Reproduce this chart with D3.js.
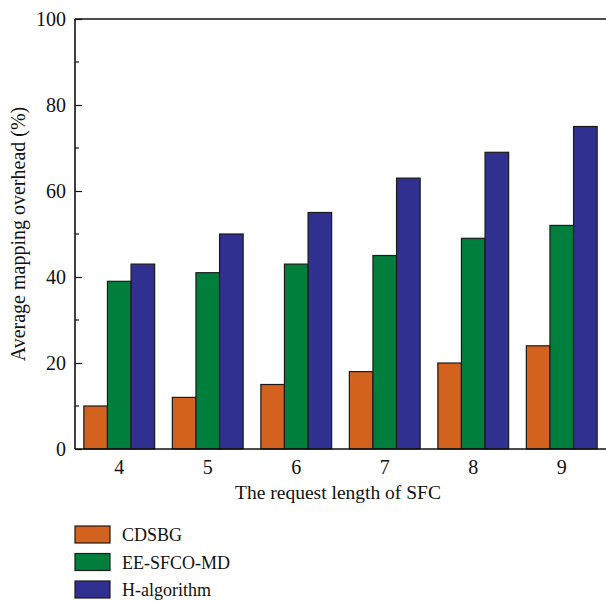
<!DOCTYPE html>
<html>
<head>
<meta charset="utf-8">
<script src="https://cdn.jsdelivr.net/npm/d3@7"></script>
<style>
  body { margin: 0; background: #fff; }
  text { font-family: "Liberation Serif", "DejaVu Serif", serif; fill: #111; }
</style>
</head>
<body>
<div id="container"></div>
<script>
const categories = ["4", "5", "6", "7", "8", "9"];
const seriesNames = ["CDSBG", "EE-SFCO-MD", "H-algorithm"];
const cdsbg = [10, 12, 15, 18, 20, 24];
const eeSfco = [39, 41, 43, 45, 49, 52];
const hAlgo = [43, 50, 55, 63, 69, 75];
const yTicks = [0, 20, 40, 60, 80, 100];
const yMinor = [10, 30, 50, 70, 90];
const colors = ["#d2621d", "#007f3c", "#303091"];

const width = 606, height = 601;
const plotLeft = 75, plotRight = 606, plotTop = 19, plotBottom = 449;

const svg = d3.select("#container").append("svg")
	.attr("width", width)
	.attr("height", height);

const x = d3.scaleBand().domain(categories).range([plotLeft, plotRight]).paddingInner(0.2).paddingOuter(0.1);
const x1 = d3.scaleBand().domain(seriesNames).range([0, x.bandwidth()]);
const y = d3.scaleLinear().domain([0, 100]).range([plotBottom, plotTop]);

const series = [cdsbg, eeSfco, hAlgo];
const rows = [];
series.forEach((vals, s) => vals.forEach((v, i) => rows.push({ cat: categories[i], name: seriesNames[s], v: v, s: s })));

svg.selectAll(".bar")
	.data(rows)
	.enter()
	.append("rect")
		.attr("class", "bar")
		.attr("x", (d) => x(d.cat) + x1(d.name))
		.attr("y", (d) => y(d.v))
		.attr("width", x1.bandwidth())
		.attr("height", (d) => y(0) - y(d.v))
		.style("fill", (d) => colors[d.s])
		.style("stroke", "#1a1a1a")
		.style("stroke-width", 1.2);

// y axis with inward ticks
const yAxis = svg.append("g")
	.attr("transform", `translate(${plotLeft},0)`)
	.call(d3.axisLeft(y).tickValues(yTicks).tickSize(-7).tickPadding(9));
yAxis.select(".domain").remove();
yAxis.selectAll("line").style("stroke", "#111").style("stroke-width", 1.2);
yAxis.selectAll("text").style("font-size", "20px").style("font-family", "Liberation Serif, serif").attr("fill", "#111");

svg.selectAll(".minor")
	.data(yMinor)
	.enter()
	.append("line")
		.attr("x1", plotLeft).attr("x2", plotLeft + 4)
		.attr("y1", (d) => y(d)).attr("y2", (d) => y(d))
		.style("stroke", "#111").style("stroke-width", 1.2);

// frame lines
svg.append("line").attr("x1", plotLeft).attr("x2", plotLeft).attr("y1", plotTop).attr("y2", plotBottom)
	.style("stroke", "#111").style("stroke-width", 1.6);
svg.append("line").attr("x1", plotLeft).attr("x2", plotRight).attr("y1", plotTop).attr("y2", plotTop)
	.style("stroke", "#111").style("stroke-width", 1.6);

// x axis
const xAxis = svg.append("g")
	.attr("transform", `translate(0,${plotBottom})`)
	.call(d3.axisBottom(x).tickSize(0).tickPadding(11));
xAxis.select(".domain").remove();
xAxis.selectAll("text").style("font-size", "20px").style("font-family", "Liberation Serif, serif").attr("fill", "#111");
svg.append("line").attr("x1", plotLeft).attr("x2", plotRight).attr("y1", plotBottom).attr("y2", plotBottom)
	.style("stroke", "#111").style("stroke-width", 1.6);

// axis titles
svg.append("text")
	.attr("x", 338).attr("y", 499)
	.attr("text-anchor", "middle")
	.style("font-size", "19.5px")
	.text("The request length of SFC");

svg.append("text")
	.attr("transform", `translate(25, ${(plotTop + plotBottom) / 2}) rotate(-90)`)
	.attr("text-anchor", "middle")
	.style("font-size", "20px")
	.text("Average mapping overhead (%)");

// legend
const legend = svg.selectAll(".legend")
	.data(seriesNames)
	.enter()
	.append("g")
		.attr("class", "legend")
		.attr("transform", (d, i) => `translate(75, ${526 + i * 27.5})`);

legend.append("rect")
	.attr("width", 35).attr("height", 17)
	.style("fill", (d, i) => colors[i])
	.style("stroke", "#1a1a1a").style("stroke-width", 1.2);

legend.append("text")
	.attr("x", 47).attr("y", 15)
	.style("font-size", "18px")
	.text((d) => d);
</script>
</body>
</html>
